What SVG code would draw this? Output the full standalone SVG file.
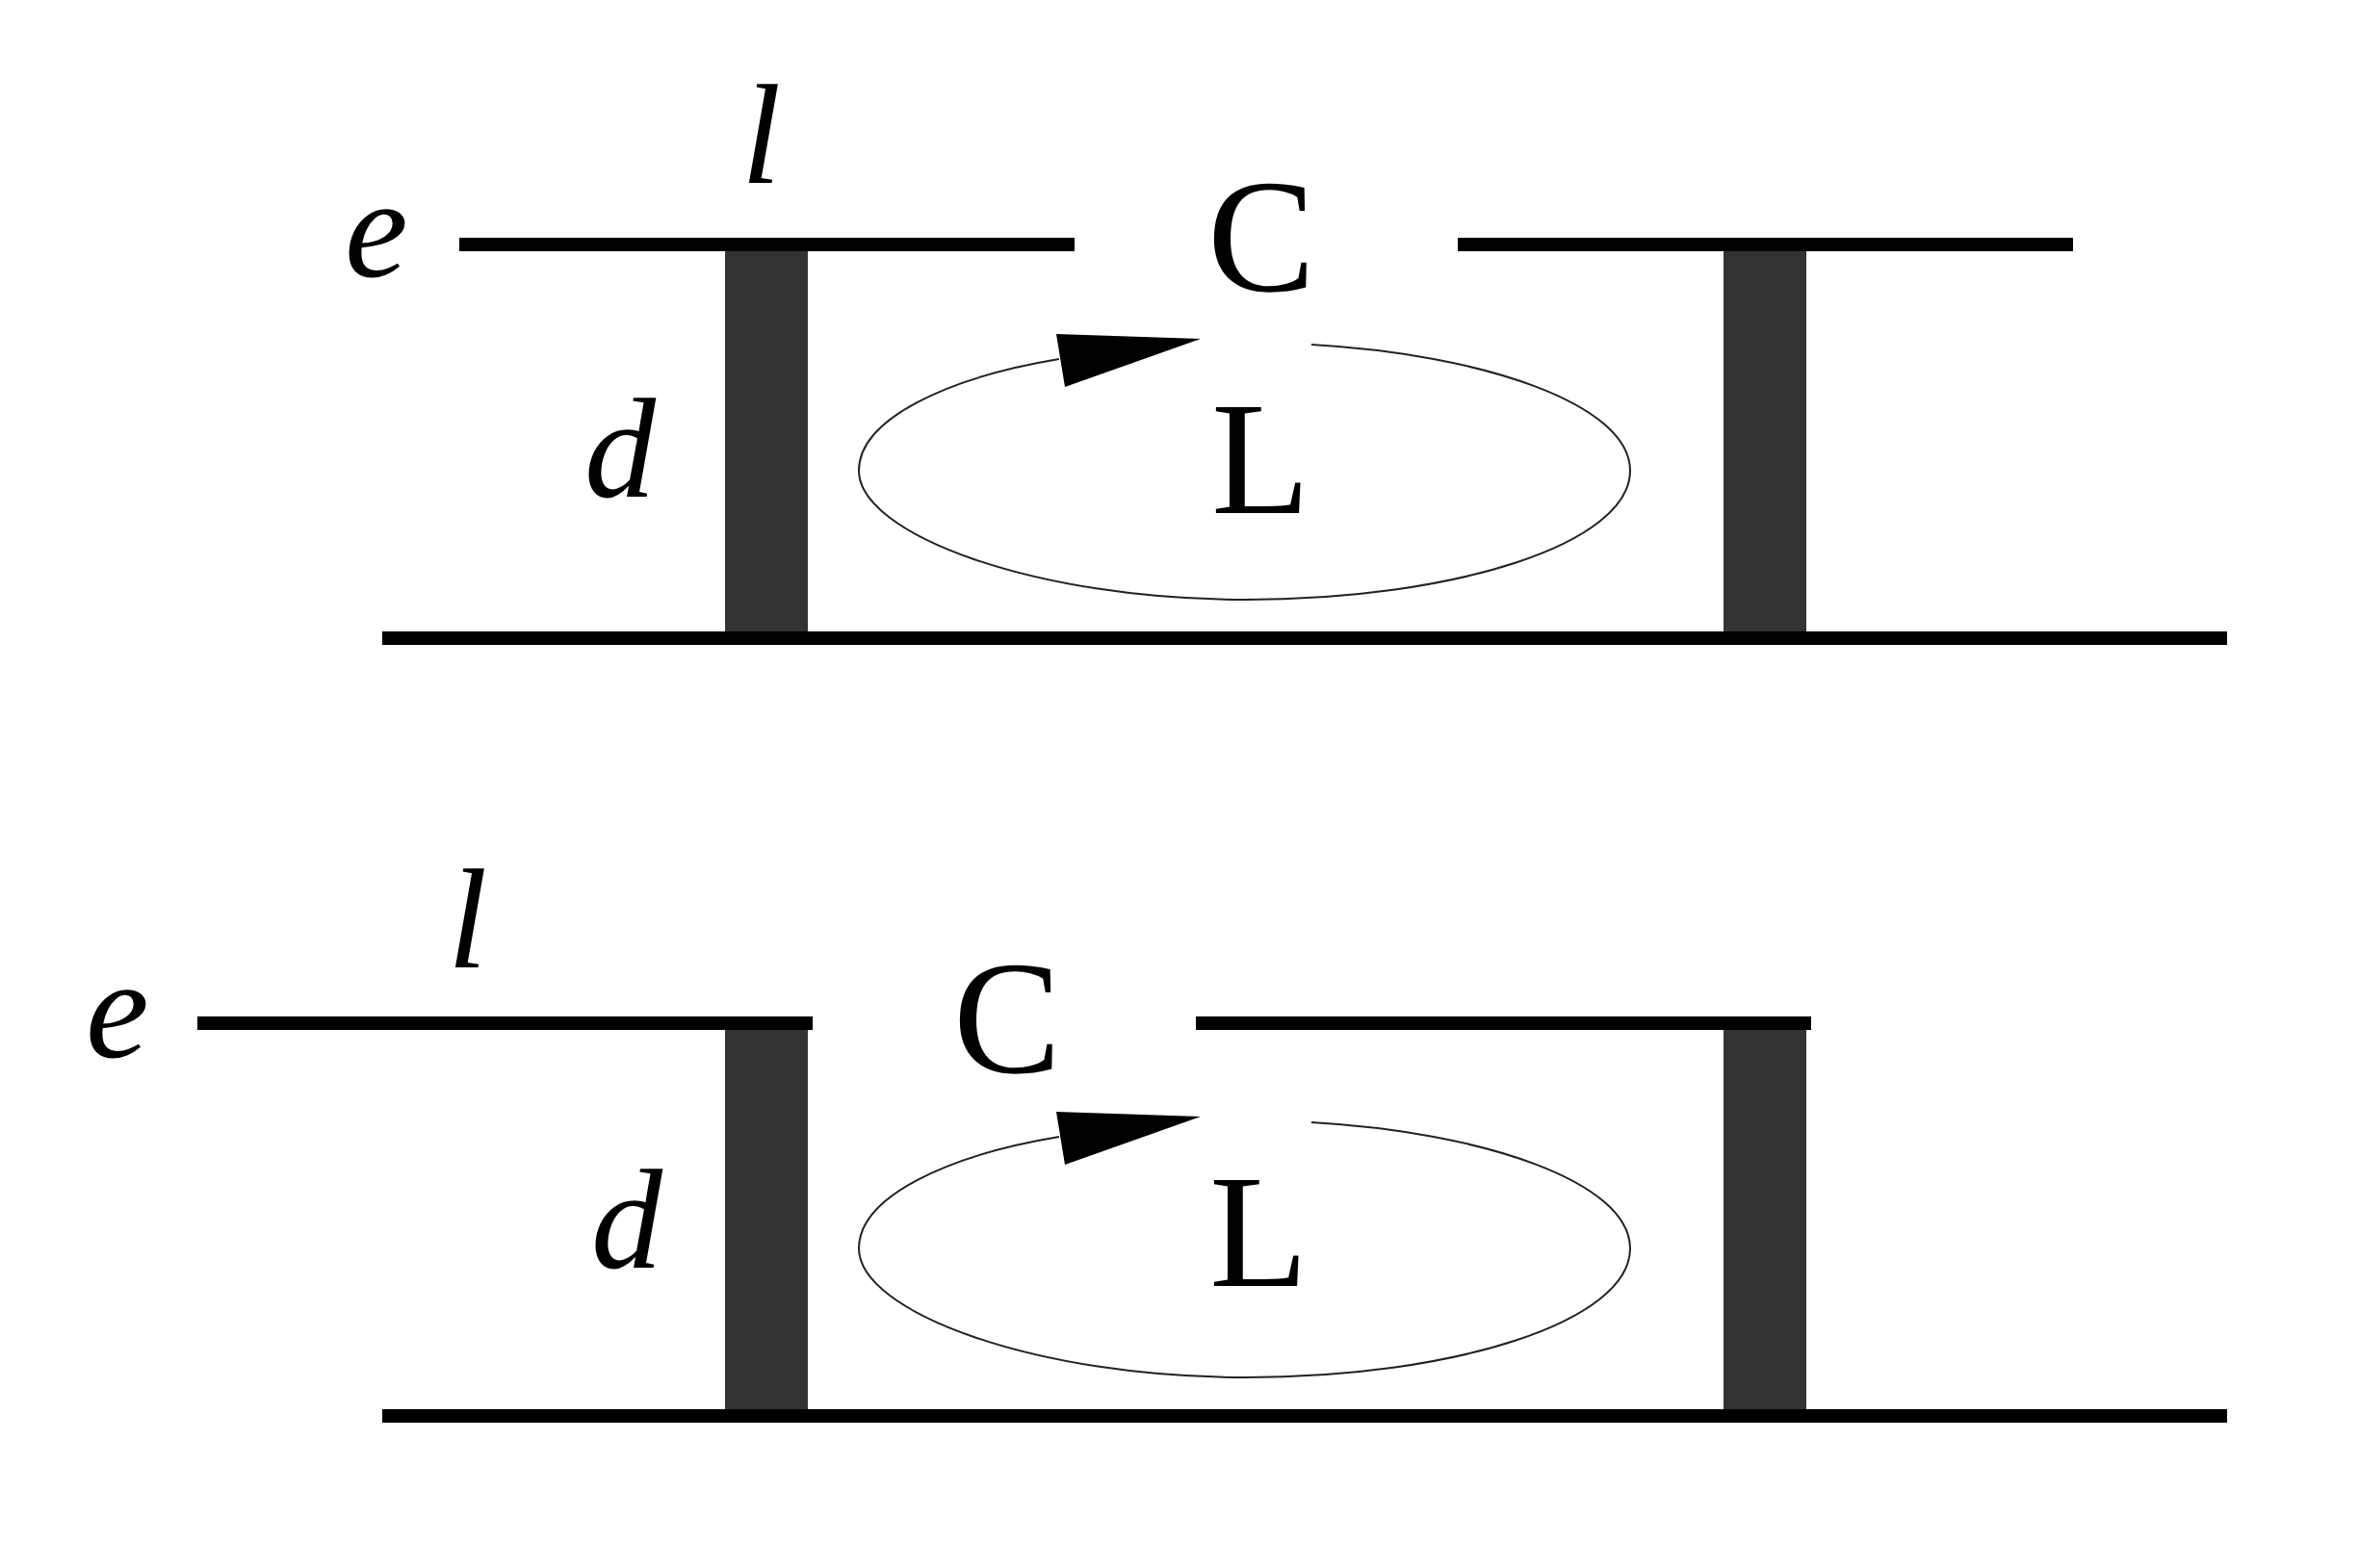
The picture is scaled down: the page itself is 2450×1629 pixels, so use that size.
<svg xmlns="http://www.w3.org/2000/svg" width="2450" height="1629" viewBox="0 0 2450 1629">
<style>
.plate{fill:#000}
.pillar{fill:#333}
.loop{fill:none;stroke:#222;stroke-width:2}
.head{fill:#000}
text{font-size:168px;fill:#000;text-rendering:geometricPrecision}
.i{font-style:italic;font-size:148px}
</style>
<rect width="2450" height="1629" fill="#fff"/>
<g id="capacitor-top" font-family="Liberation Serif, Times New Roman, Times, serif">
<rect class="pillar" x="753" y="253" width="86" height="409"/>
<rect class="pillar" x="1790" y="253" width="86" height="409"/>
<rect class="plate" x="477" y="247" width="639" height="14"/>
<rect class="plate" x="1514" y="247" width="639" height="14"/>
<rect class="plate" x="397" y="656" width="1916" height="14"/>
<text class="i" x="358" y="287">e</text>
<text class="i" x="770" y="190">l</text>
<text class="i" x="607" y="516">d</text>
<text x="1254" y="302">C</text>
<text x="1258" y="533">L</text>
</g>
<g id="capacitor-bottom" font-family="Liberation Serif, Times New Roman, Times, serif">
<rect class="pillar" x="753" y="1062" width="86" height="408"/>
<rect class="pillar" x="1790" y="1062" width="86" height="408"/>
<rect class="plate" x="205" y="1056" width="639" height="14"/>
<rect class="plate" x="1242" y="1056" width="639" height="14"/>
<rect class="plate" x="397" y="1464" width="1916" height="14"/>
<text class="i" x="89" y="1098">e</text>
<text class="i" x="465" y="1005">l</text>
<text class="i" x="614" y="1317">d</text>
<text x="990" y="1114">C</text>
<text x="1256" y="1336">L</text>
</g>
<g id="connectors">
<path class="loop" d="M1362 358C1540 368 1693 420 1693 489C1693 565 1510 623 1293 623C1075 623 892 555 892 489C892 435 985 392 1100 373"/>
<polygon class="head" points="1097,347 1247,352 1106,402"/>
<path class="loop" d="M1362 1166C1540 1176 1693 1228 1693 1297C1693 1373 1510 1431 1293 1431C1075 1431 892 1363 892 1297C892 1243 985 1200 1100 1181"/>
<polygon class="head" points="1097,1155 1247,1160 1106,1210"/>
</g>
</svg>
